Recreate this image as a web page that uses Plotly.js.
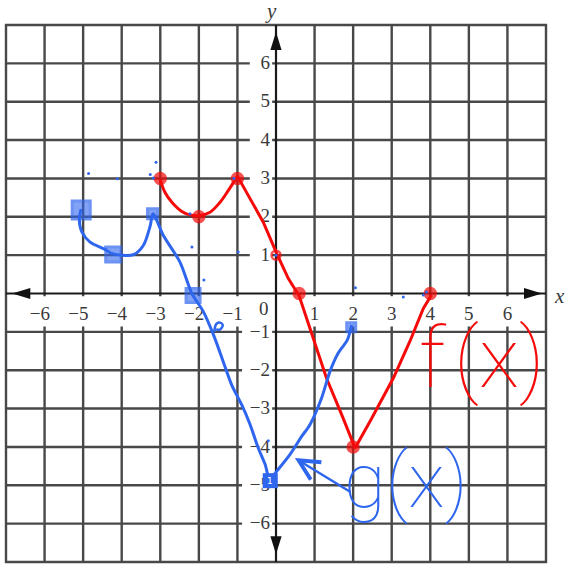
<!DOCTYPE html>
<html>
<head>
<meta charset="utf-8">
<script src="https://cdn.plot.ly/plotly-3.0.1.min.js"></script>
<style>
  html, body { margin: 0; padding: 0; background: #fff; }
  #plot { width: 571px; height: 572px; }
</style>
</head>
<body>
<div id="plot"></div>
<script>
// f(x): curved arc from x=-3 to x=-1, then straight pieces
const fArcX = [-3.0, -2.88, -2.7, -2.44, -2.23, -2.01, -1.71, -1.45, -1.24, -1.0];
const fArcY = [2.97, 2.64, 2.38, 2.14, 2.05, 2.03, 2.12, 2.38, 2.68, 3.06];
const fLineX = [-1.0, -0.67, -0.33, 0.02, 0.32, 0.6, 0.88, 1.31, 1.74, 2.05, 2.44, 3.04, 3.47, 3.82, 4.03];
const fLineY = [3.06, 2.47, 1.86, 1.04, 0.39, -0.06, -0.91, -2.21, -3.25, -4.03, -3.33, -2.21, -1.25, -0.39, -0.04];
// key points of f(x)
const fDotX = [-3, -2, -1, 0, 0.6, 2, 4];
const fDotY = [3, 2, 3, 1, 0, -4, 0];

// g(x): hand-drawn curve
const gX = [-5.05, -5.1, -5.03, -4.82, -4.43, -4.25, -3.7, -3.44, -3.26, -3.19, -2.92, -2.49, -2.18,
            -1.88, -1.62, -1.37, -1.15, -0.89, -0.67, -0.46, -0.28, -0.16, 0.02, 0.36, 0.67, 0.88,
            1.18, 1.4, 1.61, 1.85, 1.96];
const gY = [2.2, 1.95, 1.6, 1.34, 1.15, 1.04, 1.01, 1.25, 1.77, 2.08, 1.51, 0.82, 0.0,
            -0.48, -1.08, -1.77, -2.38, -2.9, -3.42, -4.03, -4.46, -4.85, -4.63, -4.2, -3.72, -3.42,
            -2.73, -2.03, -1.56, -1.21, -0.82];
// scribbled point marks on g(x)
const gMarkX = [-5.05, -4.22, -3.2, -2.15, 1.95];
const gMarkY = [2.18, 1.02, 2.08, -0.05, -0.88];
const gMarkSize = [18, 15, 10, 14, 9];
const gLowX = [-0.15];
const gLowY = [-4.88];
const gTickX = [-1.6, -1.55, -1.45, -1.38, -1.47, -1.55];
const gTickY = [-1.0, -0.8, -0.76, -0.83, -0.95, -0.93];
// small pen dots
const dotX = [-4.86, -4.11, -3.26, -3.11, -3.18, -2.18, -1.87, -0.98, -2.23, -1.09, 2.06, 3.3, 3.82, 3.9, -0.2, 0.0];
const dotY = [3.13, 2.99, 3.1, 3.42, 3.01, 1.21, 0.35, 1.08, 2.08, 3.0, 0.15, -0.09, -0.04, 0.04, -3.84, 1.0];

// axis numbering (a figure space after negative numbers keeps the digit on its grid line)
const gridVals = [-6, -5, -4, -3, -2, -1, 1, 2, 3, 4, 5, 6];
const xTickVals = [-6, -5, -4, -3, -2, -1, 1, 2, 3, 4, 5, 6];
const xTickText = ['\u22126\u2007', '\u22125\u2007', '\u22124\u2007', '\u22123\u2007', '\u22122\u2007', '\u22121\u2007',
                   '1', '2', '3', '4', '5', '6'];
const yTickVals = [6, 5, 4, 3, 2, 1, -1, -2, -3, -4, -5, -6];
const yTickText = ['6', '5', '4', '3', '2', '1', '\u22121', '\u22122', '\u22123', '\u22124', '\u22125', '\u22126'];

const RED = '#f50a0a';
const BLUE = '#2f66ee';
const INK = '#3a3a3a';
const GRID = '#484848';
const SERIF = 'Liberation Serif';
const HAND = 'Roboto';

const traces = [
  { x: fArcX, y: fArcY, mode: 'lines', line: { color: RED, width: 3, shape: 'spline', smoothing: 1 }, hoverinfo: 'skip' },
  { x: fLineX, y: fLineY, mode: 'lines', line: { color: RED, width: 3 }, hoverinfo: 'skip' },
  { x: fDotX, y: fDotY, mode: 'markers',
    marker: { color: RED, size: [11, 11, 11, 9, 11, 11, 11],
              symbol: ['circle', 'circle', 'circle', 'circle-open', 'circle', 'circle', 'circle'],
              line: { color: RED, width: 2.5 } }, hoverinfo: 'skip' },
  { x: gX, y: gY, mode: 'lines', line: { color: BLUE, width: 3, shape: 'spline', smoothing: 0.8 }, hoverinfo: 'skip' },
  { x: gTickX, y: gTickY, mode: 'lines', line: { color: BLUE, width: 2.5, shape: 'spline' }, hoverinfo: 'skip' },
  { x: gMarkX, y: gMarkY, mode: 'markers',
    marker: { symbol: 'square', size: gMarkSize, color: 'rgba(47,102,238,0.85)', line: { color: BLUE, width: 3 } }, hoverinfo: 'skip' },
  { x: gLowX, y: gLowY, mode: 'markers',
    marker: { symbol: 'square', size: 15, color: BLUE }, hoverinfo: 'skip' },
  { x: dotX, y: dotY, mode: 'markers', marker: { color: BLUE, size: 3 }, hoverinfo: 'skip' }
];

const shapes = [];
const annotations = [];

// grid lines (drawn first, beneath everything)
gridVals.forEach(v => {
  shapes.push({ type: 'line', layer: 'below', xref: 'x', yref: 'y', x0: v, x1: v, y0: -7, y1: 7,
    line: { color: GRID, width: 2.4 } });
  shapes.push({ type: 'line', layer: 'below', xref: 'x', yref: 'y', x0: -7, x1: 7, y0: v, y1: v,
    line: { color: GRID, width: 2.4 } });
});
// outer frame
shapes.push({ type: 'rect', layer: 'below', xref: 'paper', yref: 'paper', x0: 0, x1: 1, y0: 0, y1: 1,
  line: { color: GRID, width: 2.4 } });

// white gaps behind the axis numbers
xTickVals.forEach(v => {
  shapes.push({ type: 'rect', layer: 'below', xref: 'x', yref: 'y',
    x0: v < 0 ? v - 0.56 : v - 0.26, x1: v + 0.26, y0: -0.07, y1: -0.86,
    fillcolor: '#fff', line: { width: 0 } });
});
yTickVals.forEach(v => {
  shapes.push({ type: 'rect', layer: 'below', xref: 'x', yref: 'y',
    x0: v < 0 ? -0.88 : -0.68, x1: -0.1, y0: v - 0.28, y1: v + 0.28,
    fillcolor: '#fff', line: { width: 0 } });
});
annotations.push({ x: 0, y: 0, xref: 'x', yref: 'y', text: '0', showarrow: false,
  xanchor: 'right', xshift: -5, yanchor: 'middle', yshift: -15,
  font: { family: SERIF, size: 19, color: INK } });

// the two axes through the origin
shapes.push({ type: 'line', layer: 'below', xref: 'x', yref: 'y', x0: -7, x1: 7, y0: 0, y1: 0,
  line: { color: '#1a1a1a', width: 2.2 } });
shapes.push({ type: 'line', layer: 'below', xref: 'x', yref: 'y', x0: 0, x1: 0, y0: -7, y1: 7,
  line: { color: '#1a1a1a', width: 2.2 } });

// axis names
annotations.push({ x: 0.49, y: 1, xref: 'paper', yref: 'paper', text: '<i>y</i>', showarrow: false,
  xanchor: 'center', yanchor: 'middle', yshift: 14, font: { family: SERIF, size: 21, color: INK } });
annotations.push({ x: 1, y: 0, xref: 'paper', yref: 'y', text: '<i>x</i>', showarrow: false,
  xanchor: 'left', yanchor: 'middle', xshift: 6, yshift: -2, font: { family: SERIF, size: 21, color: INK } });

// arrowheads on the axes
const ah = 0.145;
shapes.push({ type: 'path', xref: 'x', yref: 'y', path: `M 0 6.82 L ${-ah} 6.35 L ${ah} 6.35 Z`, fillcolor: '#111', line: { width: 0 } });
shapes.push({ type: 'path', xref: 'x', yref: 'y', path: `M 0 -6.8 L ${-ah} -6.33 L ${ah} -6.33 Z`, fillcolor: '#111', line: { width: 0 } });
shapes.push({ type: 'path', xref: 'x', yref: 'y', path: `M -6.84 0 L -6.37 ${-ah} L -6.37 ${ah} Z`, fillcolor: '#111', line: { width: 0 } });
shapes.push({ type: 'path', xref: 'x', yref: 'y', path: `M 6.9 0 L 6.43 ${-ah} L 6.43 ${ah} Z`, fillcolor: '#111', line: { width: 0 } });

// handwritten function names
annotations.push({ x: 5.35, y: -1.7, xref: 'x', yref: 'y', text: 'f\u200A(x)', showarrow: false,
  xanchor: 'center', yanchor: 'middle',
  font: { family: HAND, size: 84, color: RED, weight: 100 } });
annotations.push({ x: 3.38, y: -4.9, xref: 'x', yref: 'y', text: 'g(x)', showarrow: false,
  xanchor: 'center', yanchor: 'middle',
  font: { family: HAND, size: 76, color: BLUE, weight: 100 } });
// pointer from g(x) to its curve
annotations.push({ x: 0.49, y: -4.29, xref: 'x', yref: 'y', ax: 1.97, ay: -5.2, axref: 'x', ayref: 'y',
  text: '', showarrow: true, arrowhead: 5, arrowsize: 1.6, arrowwidth: 2.5, arrowcolor: BLUE });
// number on the lowest mark
annotations.push({ x: -0.15, y: -4.88, xref: 'x', yref: 'y', text: '1', showarrow: false,
  font: { family: 'DejaVu Sans', size: 9, color: '#fff' } });

const tickFont = { family: SERIF, size: 19, color: INK };

const layout = {
  width: 571, height: 572,
  margin: { l: 6, r: 25, t: 25, b: 10 },
  paper_bgcolor: '#fff', plot_bgcolor: '#fff',
  showlegend: false,
  xaxis: {
    range: [-7, 7], anchor: 'free', position: 0.5, side: 'bottom',
    tickmode: 'array', tickvals: xTickVals, ticktext: xTickText, tickfont: tickFont,
    ticks: '', showgrid: false, zeroline: false, showline: false,
    layer: 'below traces', ticklabelstandoff: 6, fixedrange: true
  },
  yaxis: {
    range: [-7, 7], anchor: 'free', position: 0.5, side: 'left',
    tickmode: 'array', tickvals: yTickVals, ticktext: yTickText, tickfont: tickFont,
    ticks: '', showgrid: false, zeroline: false, showline: false,
    layer: 'below traces', ticklabelstandoff: 6, ticklabelshift: -1, fixedrange: true
  },
  shapes: shapes,
  annotations: annotations
};

Plotly.newPlot('plot', traces, layout, { displayModeBar: false, staticPlot: true });
</script>
</body>
</html>
